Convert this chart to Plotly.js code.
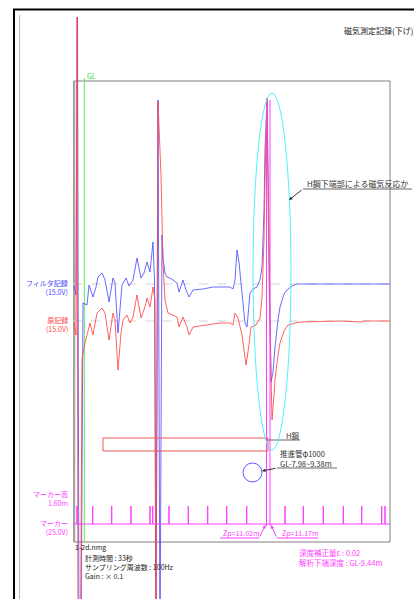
<!DOCTYPE html>
<html>
<head>
<meta charset="utf-8">
<script src="https://cdn.plot.ly/plotly-3.0.1.min.js"></script>
<style>html,body{margin:0;padding:0;background:#fff;}#chart{width:414px;height:599px;}</style>
</head>
<body>
<div id="chart"></div>
<script>
// ---- Data (position along record, amplitude relative to each channel's baseline) ----
const filterX = [74,76,77.5,79,81,82.5,83,87,89,93,96,98,102,105,109,113,115,118,120,122,126,129,133,137,141,144,147,150,153,154.5,156,158,160,162,163,165,167,170,173,177,179,183,186,189,193,203,213,222,230,233,235,237,239,241,243,245,247,249,250,253,257,260,262,264,265,267,269,271,273,275,278,280,284,287,292,297,320,350,390];
const filterAmp = [-2,-11,267,-366,-366,-36,-19,-21,-1,-13,-3,7,11,4,-18,6,1,-49,-23,-1,6,-2,4,26,6,11,22,12,42,4,-366,184,-366,49,26,11,7,6,4,1,-8,4,-6,-13,-6,-5,-3,-3,-3,-5,4,34,22,1,-16,-39,-43,-16,-9,-5,-3,4,17,74,134,186,34,-98,-88,-63,-36,-23,-10,-6,-2,0,0,0,0];

const rawX = [74,76,77,78,80.5,82,83,85,90,93,97,102,105,109,113,115,118,121,123,127,130,133,137,141,145,147,150,153,155,156,158,161,163,165,168,173,177,179,183,187,189,193,200,210,220,230,233,235,238,242,246,249,251,256,260,262,264,265,267,269,272,274,275,278,280,284,288,295,300,340,362,364,390];
const rawAmp = [-1,-14,304,-329,-329,-39,-32,-22,-2,-14,8,13,8,-19,8,1,-49,-12,1,6,-2,4,26,3,14,23,14,34,21,-329,219,146,59,21,8,6,4,-6,4,-6,-14,-6,-5,-3,-2,-2,-4,8,3,-14,-44,-24,-6,-4,3,24,81,141,223,41,-99,-74,-59,-34,-22,-10,-4,-2,-1,0,-1,0,0];

const markerX = [77,92.7,111.7,131,150,152.7,169,188.3,207.7,226.7,246.7,285,303.3,323.3,343.3,361.7,381.7,385];
const markerHeight = 18;
const zpX = [266.5, 270];
const zpLabels = ["Zp=11.02m", "Zp=11.17m"];

const channelLabels = [["フィルタ記録","(15.0V)"],["原記録","(15.0V)"],["マーカー高","1.60m"],["マーカー","(25.0V)"]];
const fileName = "1-2d.nmg";
const infoLines = ["計測時間 : 33秒","サンプリング周波数 : 100Hz","Gain : × 0.1"];
const resultLines = ["深度補正量ε : 0.02","解析下端深度 : GL-9.44m"];

// ---- Build traces ----
const BLUE = 'rgb(70,70,255)', RED = 'rgb(255,70,70)', MAG = 'rgb(255,60,255)';
const mkX = [], mkY = [];
markerX.forEach(x => { mkX.push(x, x, x); mkY.push(0, markerHeight, 0); });
mkX.unshift(73); mkY.unshift(0); mkX.push(390); mkY.push(0);
const zpXs = [], zpYs = [];
zpX.forEach(x => { zpXs.push(x, x, null); zpYs.push(-2, 424, null); });

const traces = [
  {x: zpXs, y: zpYs, yaxis: 'y4', mode: 'lines', line: {color: MAG, width: 1}, hoverinfo: 'skip'},
  {x: rawX, y: rawAmp, yaxis: 'y3', mode: 'lines', line: {color: RED, width: 1}, opacity: 0.85, hoverinfo: 'skip'},
  {x: filterX, y: filterAmp, yaxis: 'y2', mode: 'lines', line: {color: BLUE, width: 1}, opacity: 0.8, hoverinfo: 'skip'},
  {x: mkX, y: mkY, yaxis: 'y4', mode: 'lines', line: {color: MAG, width: 1}, hoverinfo: 'skip'}
];

const F = '"Noto Sans CJK JP", "Noto Sans", sans-serif';
const ann = [];
function txt(x, y, text, color, size, anchor, align) {
  ann.push({x: x, y: y, xref: 'x', yref: 'y', text: text, showarrow: false, xanchor: anchor || 'left', yanchor: 'middle',
            align: align || 'left', font: {family: F, size: size || 8, color: color || '#222'}});
}
function arrow(x, y, ax, ay, color) {
  ann.push({x: x, y: y, ax: ax, ay: ay, xref: 'x', yref: 'y', axref: 'x', ayref: 'y', text: '', showarrow: true,
            arrowhead: 2, arrowsize: 0.7, arrowwidth: 1, arrowcolor: color || '#333'});
}
txt(342, 30, "磁気測定記録(下げ)", '#222', 8);
const labColors = [BLUE, RED, MAG, MAG];
const labY = [287, 324, 498, 527];
channelLabels.forEach((p, i) => { txt(70, labY[i], p[0] + '<br>' + p[1], labColors[i], 7, 'right', 'right'); });
txt(85, 76, "GL", '#33dd33', 7);
txt(305, 183, "H鋼下端部による磁気反応か", '#333', 8);
arrow(289, 200, 303, 189);
txt(284, 435, "H鋼", '#333', 7.5);
txt(278, 458, "推進管φ1000<br>GL-7.98~9.38m", '#333', 7.5);
arrow(262, 471, 277, 468);
txt(221, 533, zpLabels[0], MAG, 7);
txt(280, 533, zpLabels[1], MAG, 7);
arrow(265.5, 525, 259, 538, MAG);
arrow(271, 525, 277, 538, MAG);
txt(297, 557, resultLines.join('<br>'), MAG, 7.5);
txt(73, 546.5, fileName, '#222', 7);
txt(83, 566.5, infoLines.join('<br>'), '#222', 7);

const ln = (x0, y0, x1, y1, color, width, dash) => ({type: 'line', xref: 'x', yref: 'y', x0, y0, x1, y1, line: {color, width: width || 1, dash: dash || 'solid'}, layer: 'below'});
const shapes = [
  ln(13, 9.5, 414, 9.5, '#000', 2),
  ln(14, 9.5, 14, 599, '#000', 2),
  ln(19.5, 15, 19.5, 599, '#bbb', 1),
  {type: 'rect', xref: 'x', yref: 'y', x0: 73.5, x1: 390, y0: 81, y1: 542, line: {color: '#808080', width: 1}, layer: 'below'},
  ln(74.3, 81, 74.3, 542, '#aaa', 2),
  ln(73, 284, 390, 284, '#d4d4d4', 1, 'dash'),
  ln(73, 321, 390, 321, '#d4d4d4', 1, 'dash'),
  ln(84.3, 78, 84.3, 542, '#55ee55', 1),
  ln(303, 189, 412, 189, '#666', 1),
  ln(267, 440, 300, 440, '#666', 1),
  ln(277, 468, 337, 468, '#666', 1),
  ln(220, 538, 259, 538, MAG, 1),
  ln(277, 538, 318, 538, MAG, 1),
  {type: 'rect', xref: 'x', yref: 'y', x0: 103, x1: 268, y0: 438, y1: 451, line: {color: 'rgb(230,90,90)', width: 1}},
  {type: 'circle', xref: 'x', yref: 'y', x0: 243, x1: 262, y0: 463, y1: 482, line: {color: 'rgb(90,90,255)', width: 1}},
  {type: 'circle', xref: 'x', yref: 'y', x0: 253, x1: 291, y0: 93, y1: 450, line: {color: 'rgb(80,240,255)', width: 1}}
];

const hid = {visible: false, fixedrange: true, showgrid: false, zeroline: false};
const layout = {
  width: 414, height: 599, margin: {l: 0, r: 0, t: 0, b: 0},
  paper_bgcolor: '#fff', plot_bgcolor: '#fff', showlegend: false,
  xaxis: Object.assign({range: [0, 414]}, hid),
  yaxis: Object.assign({range: [599, 0]}, hid),
  yaxis2: Object.assign({range: [-315, 284], overlaying: 'y'}, hid),
  yaxis3: Object.assign({range: [-278, 321], overlaying: 'y'}, hid),
  yaxis4: Object.assign({range: [-75, 524], overlaying: 'y'}, hid),
  shapes: shapes, annotations: ann
};
Plotly.newPlot('chart', traces, layout, {staticPlot: true, displayModeBar: false});
</script>
</body>
</html>
